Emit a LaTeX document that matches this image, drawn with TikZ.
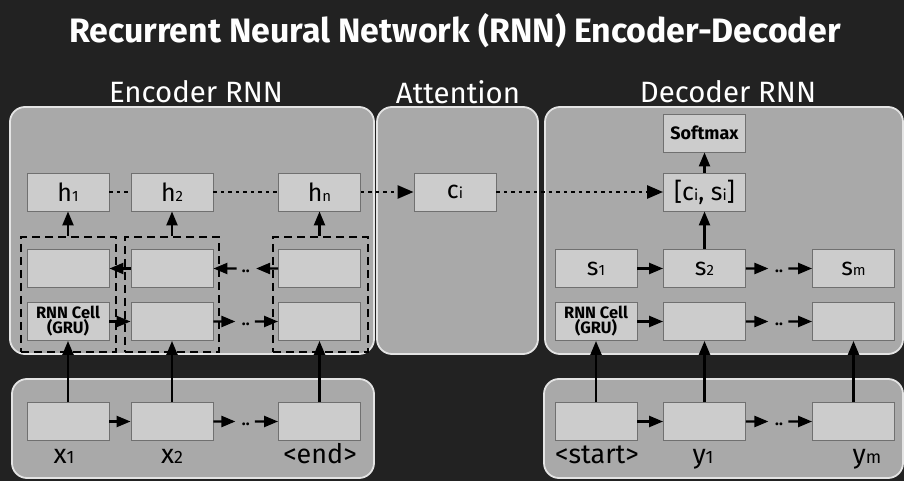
\documentclass[tikz,border=0pt]{standalone}
\usepackage{fontspec}
\setmainfont{Fira Sans}
\usetikzlibrary{arrows.meta,calc}
\definecolor{bgcol}{HTML}{222222}
\definecolor{panelcol}{HTML}{A9A9A9}
\definecolor{panelline}{HTML}{E4E4E4}
\definecolor{boxfill}{HTML}{CCCCCC}
\definecolor{boxline}{HTML}{707070}
\newcommand\sbs[1]{{\fontsize{15}{15}\selectfont #1}}
\newcommand\sbb[1]{{\fontsize{18}{18}\selectfont #1}}
\newcommand\dotchain[2]{%
  \draw[arr] (#1) -- ($(#1)!0.34!(#2)$);
  \node[dd] at ($(#1)!0.5!(#2)+(0,3)$) {..};
  \draw[arr] ($(#1)!0.64!(#2)$) -- (#2);
}
\begin{document}
\begin{tikzpicture}[x=1bp,y=-1bp,
  panelbox/.style={draw=panelline, line width=1.8bp, fill=panelcol, rounded corners=15bp},
  cell/.style={draw=boxline, line width=0.9bp, fill=boxfill, minimum width=82bp, minimum height=38bp, inner sep=0pt, font=\fontsize{25}{25}\selectfont},
  grp/.style={draw=black, line width=2.2bp, dash pattern=on 8bp off 5bp, minimum height=115bp, inner sep=0pt},
  arr/.style={-{Triangle[length=14bp,width=11bp]}, line width=2.3bp, black},
  dotl/.style={line width=2.6bp, dash pattern=on 3.5bp off 4bp, black},
  dotarr/.style={dotl, -{Triangle[length=16bp,width=13bp]}},
  dd/.style={font=\bfseries\fontsize{16}{16}\selectfont, inner sep=0pt},
  cellsmall/.style={font=\bfseries\fontsize{16.5}{15}\selectfont, align=center},
  lab/.style={font=\fontsize{27}{27}\selectfont, inner sep=0pt, anchor=base, text=black}
]
\useasboundingbox (0,0) rectangle (904,481);
\fill[bgcol] (0,0) rectangle (904,481);

% title and headings
\node[text=white, font=\bfseries\fontsize{34}{34}\selectfont] (title) at (455,31) {Recurrent Neural Network (RNN) Encoder-Decoder};
\node[text=white, font=\fontsize{29.5}{29.5}\selectfont] (hEnc) at (196,92) {Encoder RNN};
\node[text=white, font=\fontsize{29.5}{29.5}\selectfont] (hAtt) at (458,92) {Attention};
\node[text=white, font=\fontsize{29.5}{29.5}\selectfont] (hDec) at (728,92) {Decoder RNN};

% panels
\draw[panelbox] (10,107) rectangle (374,354);
\draw[panelbox] (377,107) rectangle (538,354);
\draw[panelbox] (545,107) rectangle (903,354);
\draw[panelbox] (12,379) rectangle (374,478);
\draw[panelbox] (544,379) rectangle (903,478);

% encoder
\node[cell] (h1) at (68,192) {h\sbs{1}};
\node[cell] (h2) at (172,192) {h\sbs{2}};
\node[cell] (h3) at (319.5,192) {h\sbs{n}};
\node[cell] (u1) at (68,268.5) {};
\node[cell] (u2) at (172,268.5) {};
\node[cell] (u3) at (319.5,268.5) {};
\node[cell, cellsmall] (l1) at (68,321.5) {RNN Cell\\(GRU)};
\node[cell] (l2) at (172,321.5) {};
\node[cell] (l3) at (319.5,321.5) {};
\node[grp, minimum width=95bp] (g1) at (68.5,294.5) {};
\node[grp, minimum width=94bp] (g2) at (172,294.5) {};
\node[grp, minimum width=95bp] (g3) at (320.5,294.5) {};

\node[cell] (x1) at (68,421.5) {};
\node[cell] (x2) at (172,421.5) {};
\node[cell] (x3) at (319.5,421.5) {};
\node[lab] (tx1) at (64,463) {x\sbb{1}};
\node[lab] (tx2) at (172,463) {x\sbb{2}};
\node[lab] (tx3) at (320,463) {<end>};

% attention
\node[cell] (ci) at (455,192) {c\sbs{i}};

% decoder
\node[cell, font=\bfseries\fontsize{18}{18}\selectfont] (soft) at (704.5,133) {Softmax};
\node[cell] (cs) at (704.5,192) {[c\sbs{i}, s\sbs{i}]};
\node[cell] (s1) at (596,268.5) {s\sbs{1}};
\node[cell] (s2) at (704.5,268.5) {s\sbs{2}};
\node[cell] (s3) at (853.5,268.5) {s\sbs{m}};
\node[cell, cellsmall] (d1) at (596,321.5) {RNN Cell\\(GRU)};
\node[cell] (d2) at (704.5,321.5) {};
\node[cell] (d3) at (853.5,321.5) {};
\node[cell] (b1) at (596,421.5) {};
\node[cell] (b2) at (704.5,421.5) {};
\node[cell] (b3) at (853.5,421.5) {};
\node[lab] (tb1) at (597,463) {<start>};
\node[lab] (tb2) at (703,463) {y\sbb{1}};
\node[lab] (tb3) at (867,463) {y\sbb{m}};

% encoder connectors
\draw[arr] (h1.south |- g1.north) -- (h1.south);
\draw[arr] (h2.south |- g2.north) -- (h2.south);
\draw[arr] (h3.south |- g3.north) -- (h3.south);
\draw[arr] (u2.west) -- (u1.east);
\dotchain{u3.west}{u2.east}
\draw[arr] (l1.east) -- (l2.west);
\dotchain{l2.east}{l3.west}
\draw[arr] (x1.north) -- (l1.south);
\draw[arr] (x2.north) -- (l2.south);
\draw[arr] (x3.north) -- (l3.south);
\draw[arr] (x1.east) -- (x2.west);
\dotchain{x2.east}{x3.west}

% dotted context lines
\draw[dotl] (h1.east) -- (h2.west);
\draw[dotl] (h2.east) -- (h3.west);
\draw[dotarr] (h3.east) -- (ci.west);
\draw[dotarr] (ci.east) -- (cs.west);

% decoder connectors
\draw[arr] (cs.north) -- (soft.south);
\draw[arr] (s2.north) -- (cs.south);
\draw[arr] (s1.east) -- (s2.west);
\dotchain{s2.east}{s3.west}
\draw[arr] (d1.east) -- (d2.west);
\dotchain{d2.east}{d3.west}
\draw[arr] (b1.north) -- (d1.south);
\draw[arr] (b2.north) -- (d2.south);
\draw[arr] (b3.north) -- (d3.south);
\draw[arr] (b1.east) -- (b2.west);
\dotchain{b2.east}{b3.west}
\end{tikzpicture}
\end{document}
